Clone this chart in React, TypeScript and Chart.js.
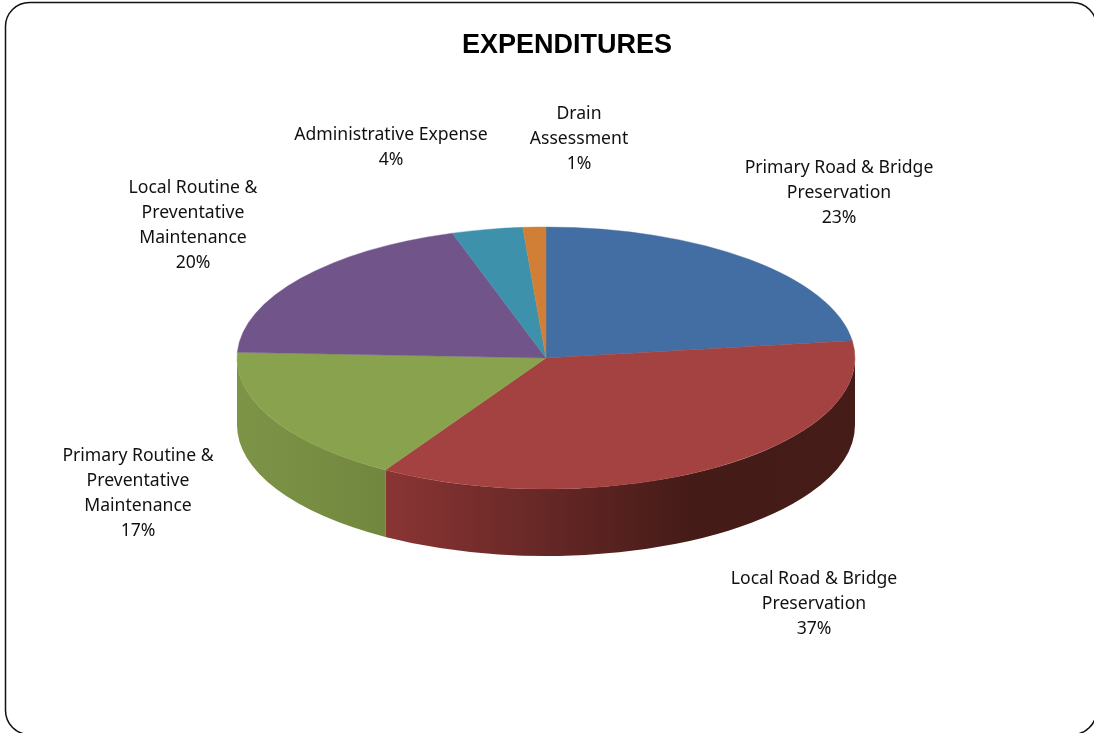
import React, { useEffect, useRef } from "react";
import { Chart, registerables } from "chart.js";

Chart.register(...registerables);

const chartTitle = "EXPENDITURES";
const categories = [
  "Primary Road & Bridge Preservation",
  "Local Road & Bridge Preservation",
  "Primary Routine & Preventative Maintenance",
  "Local Routine & Preventative Maintenance",
  "Administrative Expense",
  "Drain Assessment",
];
const sliceValues = [22.9, 35.8, 17.0, 19.4, 3.7, 1.2];
const percentLabels = ["23%", "37%", "17%", "20%", "4%", "1%"];
const labelLines = [
  ["Primary Road & Bridge", "Preservation"],
  ["Local Road & Bridge", "Preservation"],
  ["Primary Routine &", "Preventative", "Maintenance"],
  ["Local Routine &", "Preventative", "Maintenance"],
  ["Administrative Expense"],
  ["Drain", "Assessment"],
];
const topColors = ["#436ea3", "#a44241", "#89a24e", "#70548a", "#3e91aa", "#d17f37"];
const wallStops = [
  ["#2a4668", "#2a4668"],
  ["#8a3534", "#451b18"],
  ["#7d9447", "#72873e"],
  ["#483659", "#483659"],
  ["#285e6e", "#285e6e"],
  ["#8a5424", "#8a5424"],
];

const LABEL_X = [839, 814, 138, 193, 391, 579];
const LABEL_Y = [168, 579, 456, 188, 135, 114];
const LINE_H = 25;
const PIE = { cx: 546, cy: 358, rx: 309, ry: 131, depth: 67 };

const pie3d = {
  id: "pie3d",
  beforeDatasetsDraw(chart: any) {
    const { ctx } = chart;
    ctx.save();
    ctx.fillStyle = "#ffffff";
    ctx.fillRect(0, 0, chart.width, chart.height);
    ctx.beginPath();
    ctx.roundRect(5.5, 2.5, 1091, 732, 24);
    ctx.lineWidth = 1.5;
    ctx.strokeStyle = "#111111";
    ctx.stroke();

    const meta = chart.getDatasetMeta(0);
    const { cx, cy, rx, ry, depth } = PIE;
    meta.data.forEach((el: any, i: number) => {
      // canvas angles, y down: the front of the disc is 0..PI
      const a = el.startAngle;
      const b = el.endAngle;
      const segs: [number, number][] = [];
      for (const k of [-2, 0, 2]) {
        const lo = Math.max(a, k * Math.PI);
        const hi = Math.min(b, (k + 1) * Math.PI);
        if (hi > lo) segs.push([lo, hi]);
      }
      for (const [lo, hi] of segs) {
        const x0 = cx + rx * Math.cos(hi);
        const x1 = cx + rx * Math.cos(lo);
        const g = ctx.createLinearGradient(Math.min(x0, x1), 0, Math.max(x0, x1), 0);
        const [from, to] = wallStops[i];
        if (i === 1) {
          g.addColorStop(0, from);
          g.addColorStop(0.65, to);
          g.addColorStop(1, "#451c17");
        } else {
          g.addColorStop(0, from);
          g.addColorStop(1, to);
        }
        ctx.beginPath();
        ctx.ellipse(cx, cy, rx, ry, 0, lo, hi, false);
        ctx.ellipse(cx, cy + depth, rx, ry, 0, hi, lo, true);
        ctx.closePath();
        ctx.fillStyle = g;
        ctx.fill();
      }
    });
    ctx.restore();

    const outer = meta.data[0].outerRadius;
    const ox = meta.data[0].x;
    const oy = meta.data[0].y;
    ctx.save();
    ctx.translate(cx, cy);
    ctx.scale(rx / outer, ry / outer);
    ctx.translate(-ox, -oy);
  },
  afterDatasetsDraw(chart: any) {
    const { ctx } = chart;
    ctx.restore();
    ctx.save();
    ctx.textAlign = "center";
    ctx.textBaseline = "middle";
    ctx.fillStyle = "#000000";
    ctx.font = 'bold 27px "Liberation Sans"';
    ctx.fillText(chartTitle, 567, 46);
    ctx.fillStyle = "#111111";
    ctx.font = '17.6px "Noto Sans"';
    labelLines.forEach((lines, i) => {
      [...lines, percentLabels[i]].forEach((t, j) => {
        ctx.fillText(t, LABEL_X[i], LABEL_Y[i] + j * LINE_H);
      });
    });
    ctx.restore();
  },
};

export default function App() {
  const ref = useRef<HTMLCanvasElement>(null);
  useEffect(() => {
    document.body.style.margin = "0";
    const chart = new Chart(ref.current as HTMLCanvasElement, {
      type: "pie",
      data: {
        labels: categories,
        datasets: [
          {
            data: sliceValues,
            backgroundColor: topColors,
            borderColor: topColors,
            borderWidth: 0.6,
          },
        ],
      },
      options: {
        responsive: false,
        animation: false,
        layout: { padding: 40 },
        plugins: { legend: { display: false }, tooltip: { enabled: false }, title: { display: false } },
      },
      plugins: [pie3d],
    });
    return () => chart.destroy();
  }, []);
  return <canvas ref={ref} width={1094} height={733} style={{ display: "block" }} />;
}
